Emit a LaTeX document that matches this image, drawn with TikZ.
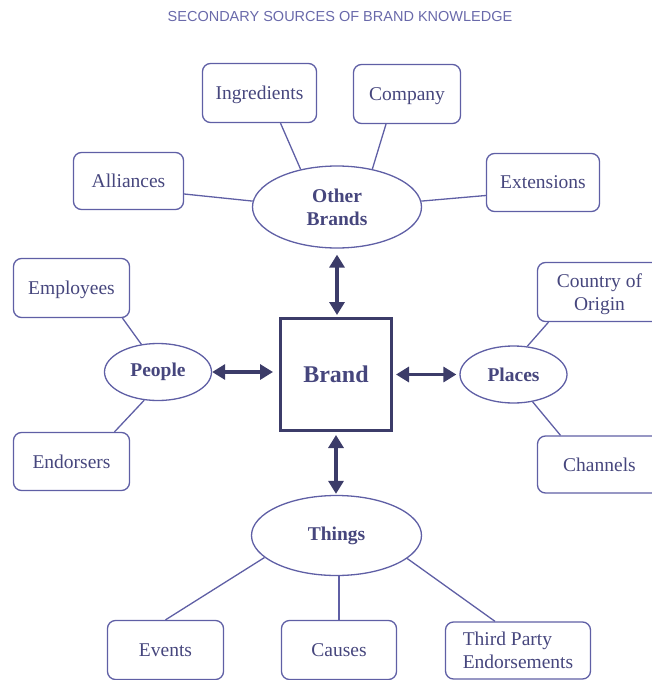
\documentclass[tikz,border=0pt]{standalone}
\usepackage{fontspec}
\setmainfont{Liberation Serif}
\setsansfont{Liberation Sans}
\usetikzlibrary{shapes.geometric, arrows.meta, positioning}
\definecolor{inkblue}{RGB}{70,70,125}
\definecolor{lineblue}{RGB}{95,95,165}
\definecolor{arrowblue}{RGB}{60,60,105}
\definecolor{titleblue}{RGB}{105,105,170}

\begin{document}
\begin{tikzpicture}[x=1pt, y=-1pt,
    source/.style={draw=lineblue, line width=1.3pt, rounded corners=8pt,
        inner sep=0pt, align=center, text=inkblue, text depth=0pt,
        font=\fontsize{19.5}{23}\selectfont},
    group/.style={ellipse, draw=lineblue, line width=1.3pt, inner sep=0pt,
        align=center, text=inkblue, font=\fontsize{19.5}{23}\selectfont\bfseries},
    link/.style={lineblue, line width=1.3pt},
    both/.style={arrowblue, line width=3.5pt,
        {Triangle[length=13pt,width=15pt]}-{Triangle[length=13pt,width=15pt]}}]
    \useasboundingbox (0,0) rectangle (652,680);

    % Title
    \node[font=\sffamily\fontsize{14.5}{17}\selectfont, text=titleblue] (title)
        at (340,17) {SECONDARY SOURCES OF BRAND KNOWLEDGE};

    % The brand in the middle
    \node[draw=arrowblue, line width=3pt, minimum width=111pt, minimum height=112pt,
        inner sep=0pt, text=inkblue, font=\fontsize{24}{28}\selectfont\bfseries]
        (brand) at (336,374.5) {Brand};

    % Four groups of sources
    \node[group, minimum width=169pt, minimum height=82pt] (other) at (337,207) {Other\\Brands};
    \node[group, minimum width=107pt, minimum height=57pt] (people) at (158,372) {People};
    \node[group, minimum width=107pt, minimum height=57pt] (places) at (513.5,374.5) {Places};
    \node[group, minimum width=170pt, minimum height=80pt] (things) at (336.5,535.5) {Things};

    % Other brands
    \node[source, minimum width=114pt, minimum height=59pt] (ingr) at (259.5,93) {Ingredients};
    \node[source, minimum width=107pt, minimum height=59pt] (comp) at (407,94) {Company};
    \node[source, minimum width=110pt, minimum height=57pt] (alli) at (128.5,181) {Alliances};
    \node[source, minimum width=113pt, minimum height=58pt] (ext) at (543,182.5) {Extensions};

    % People
    \node[source, minimum width=116pt, minimum height=59pt] (empl) at (71.5,288) {Employees};
    \node[source, minimum width=116pt, minimum height=58pt] (endo) at (71.5,461.5) {Endorsers};

    % Places
    \node[source, minimum width=124pt, minimum height=59pt] (orig) at (599.5,292) {Country of\\Origin};
    \node[source, minimum width=124pt, minimum height=57pt] (chan) at (599.5,464.5) {Channels};

    % Things
    \node[source, minimum width=116pt, minimum height=59pt] (even) at (165.5,650) {Events};
    \node[source, minimum width=115pt, minimum height=59pt] (caus) at (339,650) {Causes};
    \node[source, align=left, minimum width=145pt, minimum height=57pt] (thir) at (518,650.5) {Third Party\\Endorsements};

    % Links to the groups
    \draw[link] ([xshift=21pt]ingr.south) -- (other.134);
    \draw[link] ([xshift=-21pt]comp.south) -- (other.47);
    \draw[link] ([yshift=-13pt]alli.east) -- (other.176);
    \draw[link] ([yshift=-13pt]ext.west) -- (other.4);
    \draw[link] ([xshift=51pt]empl.south) -- (people.121);
    \draw[link] ([xshift=43pt]endo.north) -- (people.244);
    \draw[link] ([xshift=-51pt]orig.south) -- (places.64);
    \draw[link] ([xshift=-39pt]chan.north) -- (places.305);
    \draw[link] (even.north) -- (things.197);
    \draw[link] (caus.north) -- (caus.north |- things.south);
    \draw[link] ([xshift=-23pt]thir.north) -- (things.342);

    % Arrows to and from the brand
    \draw[both, shorten >=6pt] (people.east) -- (people.east -| brand.west);
    \draw[both, shorten <=3pt, shorten >=3pt] (brand.east) -- (brand.east -| places.west);
    \draw[both, shorten <=6pt, shorten >=2pt] (other.south) -- (other.south |- brand.north);
    \draw[both, shorten <=3pt, shorten >=1pt] (brand.south) -- (brand.south |- things.north);
\end{tikzpicture}
\end{document}
